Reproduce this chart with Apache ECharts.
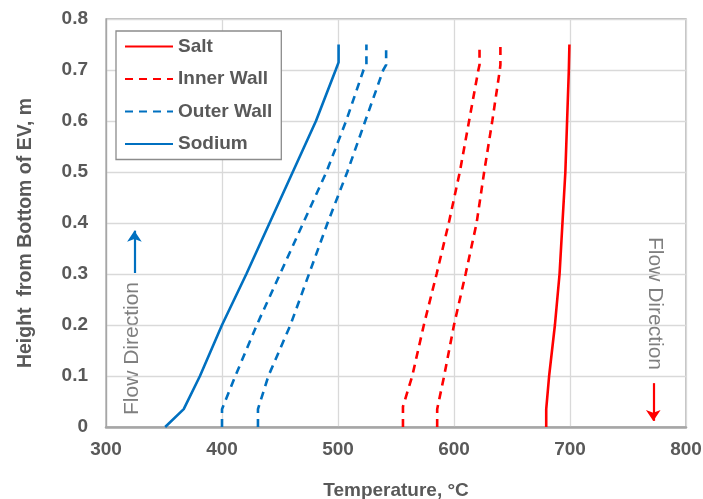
<!DOCTYPE html>
<html>
<head>
<meta charset="utf-8">
<script src="https://cdn.jsdelivr.net/npm/echarts@6/dist/echarts.min.js"></script>
<style>
html,body{margin:0;padding:0;background:#fff;}
#chart{width:703px;height:499px;}
</style>
</head>
<body>
<div id="chart"></div>
<script>
// ---- data ----
const xTicks = [300, 400, 500, 600, 700, 800];
const yTicks = [0, 0.1, 0.2, 0.3, 0.4, 0.5, 0.6, 0.7, 0.8];

const saltT = [679.5, 679.5, 682, 687, 691, 693.5, 696, 697.5, 699, 699.5];
const saltH = [0, 0.035, 0.1, 0.2, 0.3, 0.4, 0.5, 0.6, 0.7, 0.75];

const innerWallAT = [556, 556, 564, 574, 585, 595.5, 605, 613, 621, 622, 622];
const innerWallAH = [0, 0.04, 0.1, 0.2, 0.3, 0.4, 0.5, 0.6, 0.7, 0.71, 0.75];

const innerWallBT = [585.5, 585.5, 591.5, 600, 610, 619.5, 626, 633, 639.5, 640, 640];
const innerWallBH = [0, 0.035, 0.1, 0.2, 0.3, 0.4, 0.5, 0.6, 0.7, 0.71, 0.75];

const outerWallAT = [400, 400, 411.5, 430, 450, 470, 490, 507, 522, 524.5, 524.5];
const outerWallAH = [0, 0.035, 0.1, 0.2, 0.3, 0.4, 0.5, 0.6, 0.7, 0.71, 0.75];

const outerWallBT = [431, 431, 440, 459, 475, 491, 508, 523.5, 539, 541.5, 541.5];
const outerWallBH = [0, 0.035, 0.1, 0.2, 0.3, 0.4, 0.5, 0.6, 0.7, 0.71, 0.75];

const sodiumT = [351, 367, 381, 400, 421, 441, 461, 481, 498, 500.5, 500.5];
const sodiumH = [0, 0.035, 0.1, 0.2, 0.3, 0.4, 0.5, 0.6, 0.7, 0.715, 0.75];

const upArrow = [[324.5, 0.302], [324.5, 0.385]];
const downArrow = [[771.8, 0.086], [771.8, 0.012]];

const legendNames = ['Salt', 'Inner Wall', 'Outer Wall', 'Sodium'];
const annotationText = 'Flow Direction';
// --------------------------------------

function pairs(t, h) { return t.map((v, i) => [v, h[i]]); }

const RED = '#ff0000';
const BLUE = '#0070c0';
const LBL = '#595959';
const FONT = '"Liberation Sans", Arial, sans-serif';

function lineSeries(name, t, h, color, dashed, z) {
  return {
    name: name,
    type: 'line',
    data: pairs(t, h),
    showSymbol: false,
    symbol: 'none',
    smooth: false,
    z: z || 2,
    lineStyle: { color: color, width: 2.6, type: dashed ? [8, 6] : 'solid' },
    itemStyle: { color: color },
    emphasis: { disabled: true }
  };
}

const chart = echarts.init(document.getElementById('chart'), null, { renderer: 'canvas' });

chart.setOption({
  animation: false,
  backgroundColor: '#ffffff',
  textStyle: { fontFamily: FONT },
  grid: {
    left: 106, right: 17, top: 19, bottom: 72,
    containLabel: false,
    outerBoundsMode: 'none',
    show: true, borderColor: '#a6a6a6', borderWidth: 1.3, backgroundColor: 'transparent'
  },
  legend: {
    data: legendNames,
    orient: 'vertical',
    left: 116, top: 31,
    padding: [6, 9, 6, 8],
    itemWidth: 48, itemHeight: 14, itemGap: 13.5,
    backgroundColor: '#ffffff',
    borderColor: '#8c8c8c', borderWidth: 1.3,
    itemStyle: { opacity: 0 },
    textStyle: { color: LBL, fontSize: 19, fontWeight: 'bold', fontFamily: FONT, lineHeight: 19 }
  },
  xAxis: {
    type: 'value',
    min: xTicks[0], max: xTicks[xTicks.length - 1], interval: 100,
    name: 'Temperature, °C',
    nameLocation: 'middle', nameGap: 54,
    nameTextStyle: { color: LBL, fontSize: 19, fontWeight: 'bold', fontFamily: FONT },
    axisLine: { show: true, lineStyle: { color: '#a6a6a6', width: 2.5 } },
    axisTick: { show: false },
    axisLabel: { color: LBL, fontSize: 19, fontWeight: 'bold', fontFamily: FONT, margin: 13 },
    splitLine: { show: true, lineStyle: { color: '#d9d9d9', width: 1.3 } }
  },
  yAxis: {
    type: 'value',
    min: yTicks[0], max: yTicks[yTicks.length - 1], interval: 0.1,
    name: 'Height  from Bottom of EV, m',
    nameLocation: 'middle', nameGap: 70,
    nameTextStyle: { color: LBL, fontSize: 19.5, fontWeight: 'bold', fontFamily: FONT, padding: [0, 20, 0, 0] },
    axisLine: { show: true, lineStyle: { color: '#a6a6a6', width: 1.3 } },
    axisTick: { show: false },
    axisLabel: {
      color: LBL, fontSize: 19, fontWeight: 'bold', fontFamily: FONT, margin: 18,
      formatter: function (v) { const i = yTicks.findIndex(t => Math.abs(t - v) < 1e-9); return i >= 0 ? String(yTicks[i]) : ''; }
    },
    splitLine: { show: true, lineStyle: { color: '#d9d9d9', width: 1.3 } }
  },
  series: [
    lineSeries('Salt', saltT, saltH, RED, false, 3),
    lineSeries('Inner Wall', innerWallAT, innerWallAH, RED, true, 3),
    lineSeries('Inner Wall', innerWallBT, innerWallBH, RED, true, 3),
    lineSeries('Outer Wall', outerWallAT, outerWallAH, BLUE, true, 3),
    lineSeries('Outer Wall', outerWallBT, outerWallBH, BLUE, true, 3),
    lineSeries('Sodium', sodiumT, sodiumH, BLUE, false, 3),
    {
      type: 'lines',
      coordinateSystem: 'cartesian2d',
      symbol: ['none', 'arrow'],
      symbolSize: 11,
      silent: true,
      data: [
        { coords: upArrow, lineStyle: { color: BLUE, width: 2.2 } },
        { coords: downArrow, lineStyle: { color: RED, width: 2.2 } }
      ],
      lineStyle: { opacity: 1, curveness: 0 },
      z: 4
    }
  ],
  graphic: [
    {
      type: 'text', x: 132.5, y: 348.5, rotation: Math.PI / 2, silent: true,
      style: { text: annotationText, fill: '#7f7f7f', fontSize: 21, fontFamily: FONT, align: 'center', verticalAlign: 'middle' }
    },
    {
      type: 'text', x: 655, y: 303.5, rotation: -Math.PI / 2, silent: true,
      style: { text: annotationText, fill: '#7f7f7f', fontSize: 21, fontFamily: FONT, align: 'center', verticalAlign: 'middle' }
    }
  ]
});
</script>
</body>
</html>
